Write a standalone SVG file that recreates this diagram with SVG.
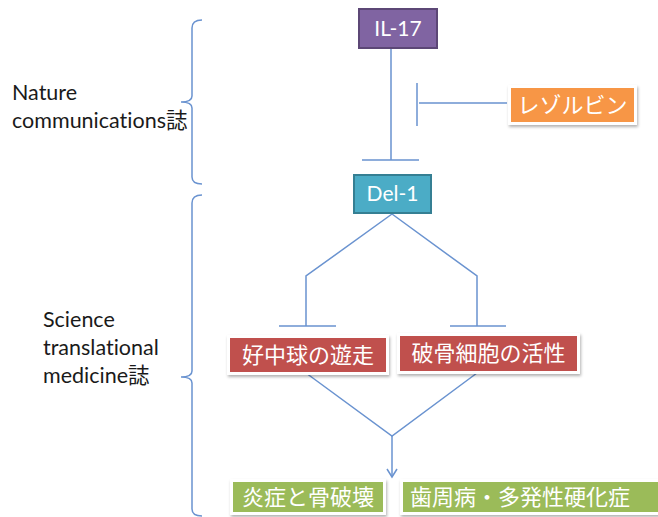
<svg xmlns="http://www.w3.org/2000/svg" width="658" height="517" viewBox="0 0 658 517">
<style>
.ln{fill:none;stroke:#6A93D0;stroke-width:1.5}
.lbl{font-family:Lato,"Noto Sans CJK JP",sans-serif;font-size:21.5px;fill:#1a1a1a;font-variant-ligatures:none}
.wt{font-family:Lato,"Noto Sans CJK JP",sans-serif;font-size:21px;fill:#fff;text-anchor:middle}
.jp{font-family:"Noto Sans CJK JP",sans-serif;font-size:22px;fill:#fff;text-anchor:middle}
.frame{fill:#fff;filter:url(#sh)}
</style>
<defs>
<filter id="sh" x="-10%" y="-20%" width="120%" height="150%">
<feDropShadow dx="1" dy="2" stdDeviation="1.5" flood-color="#000" flood-opacity="0.3"/>
</filter>
<marker id="arr" markerWidth="12" markerHeight="12" refX="10" refY="6" orient="auto" markerUnits="userSpaceOnUse">
<path d="M2,1 L10,6 L2,11" fill="none" stroke="#6A93D0" stroke-width="1.5"/>
</marker>
</defs>
<rect width="658" height="517" fill="#fff"/>
<g id="labels">
<text class="lbl" x="12" y="100">Nature</text>
<text class="lbl" x="12" y="128">communications誌</text>
<text class="lbl" x="43" y="327">Science</text>
<text class="lbl" x="43" y="355">translational</text>
<text class="lbl" x="43" y="383">medicine誌</text>
</g>
<g id="connectors">
<path class="ln" d="M202,20 Q192,20 192,28 L192,96 Q192,102 181,102 Q192,102 192,108 L192,177 Q192,184 202,184"/>
<path class="ln" d="M202,195 Q192,195 192,203 L192,371 Q192,377 181,377 Q192,377 192,383 L192,509 Q192,516 202,516"/>
<path class="ln" d="M391,49 L391,160 M362,160 L419,160"/>
<path class="ln" d="M507,103 L419,103 M417,83 L417,126"/>
<path class="ln" d="M392,214 L306,276 L306,326 M279,326 L336,326"/>
<path class="ln" d="M392,214 L477,276 L477,326 M450,326 L506,326"/>
<path class="ln" d="M306,373 L392,436 L477,373"/>
<path class="ln" d="M392,436 L392,477" marker-end="url(#arr)"/>
</g>
<g id="il17">
<rect x="359" y="9" width="78" height="39" fill="#8064A2" stroke="#5C4776" stroke-width="2"/>
<text class="wt" x="398" y="36">IL-17</text>
</g>
<g id="resolvin">
<rect class="frame" x="508" y="85" width="129" height="40"/>
<rect x="511" y="88" width="123" height="34" fill="#F79646"/>
<text class="jp" x="572.5" y="113">レゾルビン</text>
</g>
<g id="del1">
<rect x="354" y="175" width="77" height="38" fill="#4BACC6" stroke="#357F93" stroke-width="2"/>
<text class="wt" x="392.5" y="201">Del-1</text>
</g>
<g id="neutrophil">
<rect class="frame" x="227" y="335" width="162" height="40"/>
<rect x="230" y="338" width="156" height="34" fill="#C0504D"/>
<text class="jp" x="308" y="363">好中球の遊走</text>
</g>
<g id="osteoclast">
<rect class="frame" x="397" y="333" width="183" height="41"/>
<rect x="400" y="336" width="177" height="35" fill="#C0504D"/>
<text class="jp" x="488.5" y="361">破骨細胞の活性</text>
</g>
<g id="inflammation">
<rect class="frame" x="230" y="479" width="156" height="36"/>
<rect x="233" y="482" width="150" height="30" fill="#9BBB59"/>
<text class="jp" x="308" y="505">炎症と骨破壊</text>
</g>
<g id="disease">
<rect class="frame" x="400" y="479" width="262" height="36"/>
<rect x="403" y="482" width="259" height="30" fill="#9BBB59"/>
<text class="jp" x="520" y="505">歯周病・多発性硬化症</text>
</g>
</svg>
